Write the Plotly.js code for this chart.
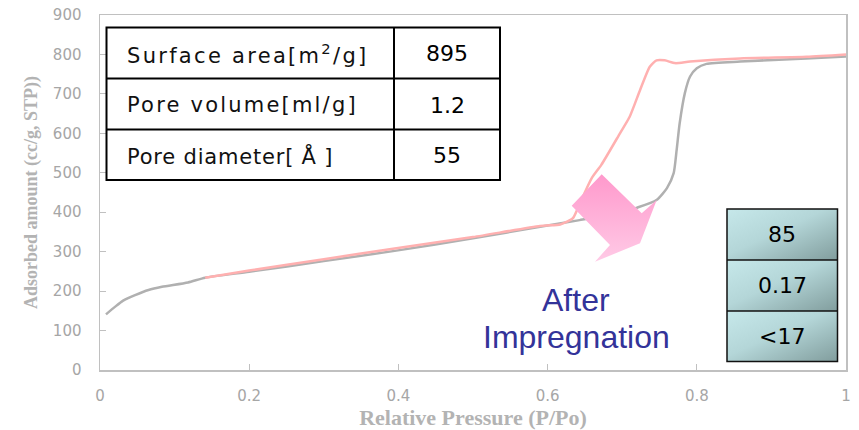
<!DOCTYPE html>
<html>
<head>
<meta charset="utf-8">
<script src="https://cdn.plot.ly/plotly-3.0.1.min.js"></script>
<style>
  html, body { margin: 0; padding: 0; background: #fff; }
  #chart { width: 859px; height: 430px; }
  .ls-a text { letter-spacing: 2.3px; }
  .ls-b text { letter-spacing: 2.2px; }
  .ls-c text { letter-spacing: 0.8px; }
</style>
</head>
<body>
<div id="chart"></div>
<script>
// ---- data ----
const adsorptionX = [0.008, 0.020, 0.031, 0.047, 0.065, 0.083, 0.118, 0.141, 0.2, 0.3, 0.395, 0.5, 0.59, 0.643, 0.70, 0.719, 0.746, 0.760, 0.769, 0.773, 0.777, 0.784, 0.791, 0.800, 0.813, 0.858, 0.947, 1.0];
const adsorptionY = [141, 160, 176, 190, 203, 211, 222, 234, 249, 276, 302, 334, 363, 380, 400, 411, 431, 461, 499, 558, 625, 702, 744, 765, 776, 782, 790, 795];
const desorptionX = [0.141, 0.2, 0.3, 0.395, 0.5, 0.59, 0.617, 0.626, 0.634, 0.645, 0.659, 0.672, 0.697, 0.710, 0.724, 0.737, 0.746, 0.757, 0.771, 0.791, 0.858, 0.947, 1.0];
const desorptionY = [234, 252, 281, 308, 337, 365, 369, 376, 385, 430, 486, 520, 600, 642, 710, 769, 785, 785, 778, 782, 790, 794, 800];

const xTickVals = [0, 0.2, 0.4, 0.6, 0.8, 1];
const xTickText = ["0", "0.2", "0.4", "0.6", "0.8", "1"];
const yTickVals = [0, 100, 200, 300, 400, 500, 600, 700, 800, 900];

const beforeLabels = ["Surface area[m<sup>2</sup>/g]", "Pore volume[ml/g]", "Pore diameter[ Å ]"];
const beforeValues = ["895", "1.2", "55"];
const afterValues = ["85", "0.17", "<17"];
const afterText = ["After", "Impregnation"];

// ---- layout helpers (pixel -> paper) ----
const L = 100, R = 846, T = 15, B = 370;
const W = R - L, H = B - T;
const px = x => (x - L) / W;
const py = y => (B - y) / H;

const shapes = [];
const annotations = [];
const spacedIdx = {};

// big table
const bt = {x0: 106.5, x1: 500, y0: 27.5, y1: 180, col: 394};
const btRows = [bt.y0, 78.5, 129.5, bt.y1];
shapes.push({type: 'rect', xref: 'paper', yref: 'paper', x0: px(bt.x0), x1: px(bt.x1), y0: py(bt.y0), y1: py(bt.y1),
  line: {color: '#000', width: 2}, fillcolor: '#fff', layer: 'above'});
[btRows[1], btRows[2]].forEach(y => shapes.push({type: 'line', xref: 'paper', yref: 'paper', x0: px(bt.x0), x1: px(bt.x1), y0: py(y), y1: py(y), line: {color: '#000', width: 2}}));
shapes.push({type: 'line', xref: 'paper', yref: 'paper', x0: px(bt.col), x1: px(bt.col), y0: py(bt.y0), y1: py(bt.y1), line: {color: '#000', width: 2}});
const spaceClasses = ['ls-a', 'ls-b', 'ls-c'];
for (let i = 0; i < 3; i++) {
  const yc = (btRows[i] + btRows[i + 1]) / 2 + 1;
  spacedIdx[annotations.length] = spaceClasses[i];
  annotations.push({xref: 'paper', yref: 'paper', x: px(125), y: py(yc), xanchor: 'left', yanchor: 'middle', align: 'left',
    text: beforeLabels[i], showarrow: false, font: {family: 'DejaVu Sans', size: 21, color: '#111'}});
  annotations.push({xref: 'paper', yref: 'paper', x: px((bt.col + bt.x1) / 2), y: py(yc), xanchor: 'center', yanchor: 'middle',
    text: beforeValues[i], showarrow: false, font: {family: 'DejaVu Sans', size: 22, color: '#000'}});
}

// small table
const st = {x0: 727, x1: 837.5, y0: 209, y1: 361.5};
const stRows = [st.y0, 260, 311, st.y1];
shapes.push({type: 'rect', xref: 'paper', yref: 'paper', x0: px(st.x0), x1: px(st.x1), y0: py(st.y0), y1: py(st.y1),
  line: {color: '#111', width: 1.5}, fillcolor: 'rgba(0,0,0,0)', layer: 'above'});
[stRows[1], stRows[2]].forEach(y => shapes.push({type: 'line', xref: 'paper', yref: 'paper', x0: px(st.x0), x1: px(st.x1), y0: py(y), y1: py(y), line: {color: '#111', width: 1.5}}));
for (let i = 0; i < 3; i++) {
  const yc = (stRows[i] + stRows[i + 1]) / 2;
  annotations.push({xref: 'paper', yref: 'paper', x: px((st.x0 + st.x1) / 2), y: py(yc), xanchor: 'center', yanchor: 'middle',
    text: afterValues[i].replace('<', '&lt;'), showarrow: false, font: {family: 'DejaVu Sans', size: 22, color: '#000'}});
}

// "After Impregnation"
annotations.push({xref: 'paper', yref: 'paper', x: px(576), y: py(300), xanchor: 'center', yanchor: 'middle',
  text: afterText[0], showarrow: false, font: {family: 'Liberation Sans', size: 32, color: '#333399'}});
annotations.push({xref: 'paper', yref: 'paper', x: px(576), y: py(337), xanchor: 'center', yanchor: 'middle',
  text: afterText[1], showarrow: false, font: {family: 'Liberation Sans', size: 32, color: '#333399'}});

// gradient decorations as SVG images
const cellSvg = `<svg xmlns='http://www.w3.org/2000/svg' width='110' height='152' viewBox='0 0 110 152' preserveAspectRatio='none'>
<defs><linearGradient id='g' x1='0' y1='0' x2='1' y2='1'><stop offset='0' stop-color='#c6e8ea'/><stop offset='0.45' stop-color='#b4d6d8'/><stop offset='1' stop-color='#819d9d'/></linearGradient></defs>
<rect x='0' y='0' width='110' height='51' fill='url(#g)'/><rect x='0' y='51' width='110' height='51' fill='url(#g)'/><rect x='0' y='102' width='110' height='50' fill='url(#g)'/></svg>`;
const arrowBox = {x0: 571, y0: 174, w: 86, h: 88};
const arrowSvg = `<svg xmlns='http://www.w3.org/2000/svg' width='86' height='88' viewBox='0 0 86 88' preserveAspectRatio='none'>
<defs><linearGradient id='a' x1='0' y1='0' x2='0' y2='1'><stop offset='0' stop-color='#ff99cc'/><stop offset='1' stop-color='#ffcae6'/></linearGradient></defs>
<polygon points='30.7,0.3 70.7,39.3 85.7,26 69,69.3 24,87.7 39,71 0.7,31.7' fill='url(#a)'/></svg>`;
const uri = s => 'data:image/svg+xml;charset=utf-8,' + encodeURIComponent(s);

const images = [
  {source: uri(cellSvg), xref: 'paper', yref: 'paper', x: px(st.x0), y: py(st.y0), sizex: (st.x1 - st.x0) / W, sizey: (st.y1 - st.y0) / H,
    xanchor: 'left', yanchor: 'top', sizing: 'stretch', layer: 'above'},
  {source: uri(arrowSvg), xref: 'paper', yref: 'paper', x: px(arrowBox.x0), y: py(arrowBox.y0), sizex: arrowBox.w / W, sizey: arrowBox.h / H,
    xanchor: 'left', yanchor: 'top', sizing: 'stretch', layer: 'above'}
];

const traces = [
  {x: adsorptionX, y: adsorptionY, type: 'scatter', mode: 'lines', line: {color: '#b0b0b0', width: 2.5, shape: 'spline', smoothing: 0.6}, hoverinfo: 'skip'},
  {x: desorptionX, y: desorptionY, type: 'scatter', mode: 'lines', line: {color: '#ffb0b0', width: 2.5, shape: 'spline', smoothing: 0.6}, hoverinfo: 'skip'}
];

const axisCommon = {showline: true, linecolor: '#c0c0c0', linewidth: 1.5, mirror: true, showgrid: false, zeroline: false,
  ticks: 'inside', ticklen: 6, tickwidth: 1, tickcolor: '#c0c0c0', tickfont: {family: 'DejaVu Sans', size: 15, color: '#a6a6a6'}};

const layout = {
  width: 859, height: 430,
  margin: {l: L, r: 859 - R, t: T, b: 430 - B},
  paper_bgcolor: '#fff', plot_bgcolor: '#fff',
  showlegend: false,
  xaxis: Object.assign({}, axisCommon, {range: [0, 1], tickvals: xTickVals, ticktext: xTickText, ticklabelstandoff: 11,
    title: {text: 'Relative Pressure (P/Po)', font: {family: 'Liberation Serif', size: 22, color: '#b3b3b3', weight: 'bold'}, standoff: 6}}),
  yaxis: Object.assign({}, axisCommon, {range: [0, 900], tickvals: yTickVals, ticklabelstandoff: 14,
    title: {text: 'Adsorbed amount (cc/g, STP))', font: {family: 'Liberation Serif', size: 18, color: '#b3b3b3', weight: 'bold'}, standoff: 10}}),
  shapes: shapes,
  annotations: annotations,
  images: images
};

Plotly.newPlot('chart', traces, layout, {displayModeBar: false, staticPlot: true}).then(gd => {
  gd.querySelectorAll('.annotation').forEach(a => {
    const idx = +a.getAttribute('data-index');
    if (spacedIdx[idx]) a.classList.add(spacedIdx[idx]);
  });
});
</script>
</body>
</html>
